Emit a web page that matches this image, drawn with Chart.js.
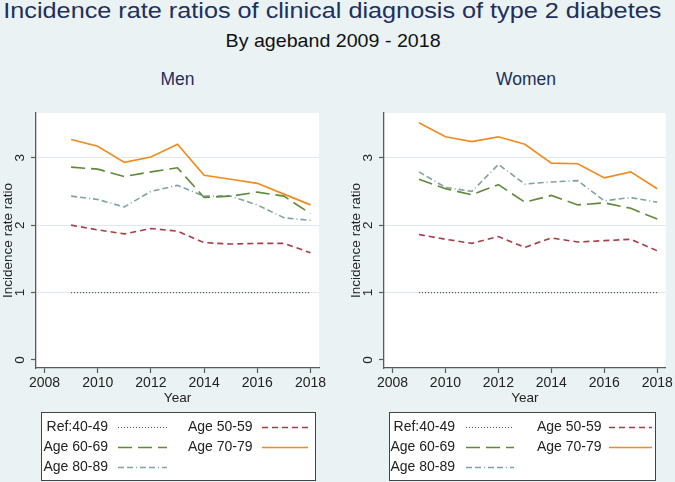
<!DOCTYPE html>
<html>
<head>
<meta charset="utf-8">
<script src="https://cdn.jsdelivr.net/npm/chart.js@4.4.1/dist/chart.umd.min.js"></script>
<style>
  body { margin: 0; width: 675px; height: 482px; overflow: hidden; position: relative;
         background: #eaf2f3; font-family: "Liberation Sans", Arial, sans-serif; }
  .txt { position: absolute; white-space: nowrap; line-height: 1; transform-origin: center center; }
  #title { top: 0px; font-size: 22.5px; color: #1e2f5c; }
  #subtitle { top: 31px; font-size: 19px; color: #111; }
  .panel { top: 71px; font-size: 17.5px; color: #1e2f5c; }
  canvas { position: absolute; top: 0; }
  #menChart { left: 0; }
  #womenChart { left: 340px; }
</style>
</head>
<body>
<div id="title" class="txt">Incidence rate ratios of clinical diagnosis of type 2 diabetes</div>
<div id="subtitle" class="txt">By ageband 2009 - 2018</div>
<div id="menTitle" class="txt panel">Men</div>
<div id="womenTitle" class="txt panel">Women</div>
<canvas id="menChart" width="340" height="482"></canvas>
<canvas id="womenChart" width="335" height="482"></canvas>
<script>
// data
const years = [2009, 2010, 2011, 2012, 2013, 2014, 2015, 2016, 2017, 2018];
const xTicks = [2008, 2010, 2012, 2014, 2016, 2018];
const yTicks = [0, 1, 2, 3];
const seriesNames = ["Ref:40-49", "Age 50-59", "Age 60-69", "Age 70-79", "Age 80-89"];

const menRef = [1, 1, 1, 1, 1, 1, 1, 1, 1, 1];
const men5059 = [2.00, 1.93, 1.87, 1.95, 1.91, 1.74, 1.72, 1.73, 1.73, 1.59];
const men6069 = [2.86, 2.83, 2.72, 2.79, 2.85, 2.41, 2.43, 2.49, 2.43, 2.17];
const men7079 = [3.27, 3.17, 2.93, 3.01, 3.20, 2.74, 2.68, 2.62, 2.46, 2.30];
const men8089 = [2.43, 2.38, 2.27, 2.50, 2.59, 2.43, 2.43, 2.30, 2.11, 2.07];

const womenRef = [1, 1, 1, 1, 1, 1, 1, 1, 1, 1];
const women5059 = [1.86, 1.79, 1.73, 1.83, 1.67, 1.81, 1.75, 1.77, 1.79, 1.62];
const women6069 = [2.68, 2.54, 2.45, 2.60, 2.34, 2.44, 2.30, 2.33, 2.25, 2.09];
const women7079 = [3.52, 3.31, 3.24, 3.31, 3.20, 2.92, 2.91, 2.70, 2.79, 2.54];
const women8089 = [2.79, 2.56, 2.50, 2.90, 2.61, 2.64, 2.66, 2.36, 2.41, 2.34];

// line look for each series, same order as seriesNames
const lineColors = ["#555555", "#a83c46", "#5e8a3a", "#f08c1e", "#7fa3a0"];
const lineDashes = [[1, 2], [6, 4], [14, 6], [], [6, 3, 6, 3, 1, 3]];
const lineWidths = [1.2, 1.6, 1.6, 1.7, 1.6];

const FONT = "'Liberation Sans', Arial, sans-serif";
const AXIS = "#5a5a5a";

// center (and squeeze/stretch) the html titles
function placeText(id, centerX, targetW) {
  const el = document.getElementById(id);
  const w = el.getBoundingClientRect().width;
  el.style.left = (centerX - w / 2) + "px";
  if (targetW) el.style.transform = "scaleX(" + (targetW / w) + ")";
}
placeText("title", 332.5, 658);
placeText("subtitle", 333.5, 215);
placeText("menTitle", 177.4);
placeText("womenTitle", 526);

// white plot region
const plotBg = {
  id: "plotBg",
  beforeDraw(chart) {
    const a = chart.chartArea;
    chart.ctx.save();
    chart.ctx.fillStyle = "#ffffff";
    chart.ctx.fillRect(a.left, a.top, a.right - a.left, a.bottom - a.top);
    chart.ctx.restore();
  }
};

// stata style legend box: label text then line sample, two columns
const boxLegend = {
  id: "boxLegend",
  afterDraw(chart, args, opts) {
    const ctx = chart.ctx;
    ctx.save();
    ctx.fillStyle = "#ffffff";
    ctx.fillRect(opts.x, opts.y, opts.w, opts.h);
    ctx.strokeStyle = "#444444";
    ctx.lineWidth = 1;
    ctx.strokeRect(opts.x + 0.5, opts.y + 0.5, opts.w, opts.h);
    ctx.font = "14px " + FONT;
    ctx.textBaseline = "middle";
    chart.data.datasets.forEach((ds, i) => {
      const col = opts.cols[i % 2];
      const y = opts.rows[Math.floor(i / 2)];
      ctx.fillStyle = "#222222";
      ctx.textAlign = i % 2 === 0 ? "right" : "left";
      ctx.fillText(ds.label, col.text, y);
      ctx.strokeStyle = ds.borderColor;
      ctx.lineWidth = ds.borderWidth;
      ctx.setLineDash(ds.borderDash);
      ctx.beginPath();
      ctx.moveTo(col.s0, y + 0.5);
      ctx.lineTo(col.s1, y + 0.5);
      ctx.stroke();
      ctx.setLineDash([]);
    });
    ctx.restore();
  }
};

function makeChart(canvasId, series, padding, legendOpts) {
  const datasets = series.map((vals, i) => ({
    label: seriesNames[i],
    data: vals,
    borderColor: lineColors[i],
    borderDash: lineDashes[i],
    borderWidth: lineWidths[i],
    pointRadius: 0,
    fill: false,
    tension: 0,
  }));
  return new Chart(document.getElementById(canvasId), {
    type: "line",
    data: { labels: years, datasets: datasets },
    plugins: [plotBg, boxLegend],
    options: {
      responsive: false,
      animation: false,
      devicePixelRatio: 1,
      layout: { padding: padding },
      plugins: {
        legend: { display: false },
        tooltip: { enabled: false },
        boxLegend: legendOpts,
      },
      scales: {
        x: {
          type: "linear",
          min: 2007.68,
          max: 2018.32,
          afterBuildTicks: (s) => { s.ticks = xTicks.map((v) => ({ value: v })); },
          afterFit: (s) => { s.height = 38; },
          grid: { drawOnChartArea: false, tickLength: 5, tickColor: AXIS, tickWidth: 1.2 },
          border: { color: AXIS, width: 1.3 },
          ticks: { color: "#222", font: { family: FONT, size: 14 }, padding: 2, maxRotation: 0, autoSkip: false,
                   callback: (v) => String(v) },
          title: { display: true, text: "Year", color: "#222", font: { family: FONT, size: 13.5 }, padding: 0 },
        },
        y: {
          min: -0.119,
          max: 3.663,
          afterBuildTicks: (s) => { s.ticks = yTicks.map((v) => ({ value: v })); },
          afterFit: (s) => { s.width = 36; },
          grid: {
            color: (c) => (c.tick && c.tick.value === 0 ? "rgba(0,0,0,0)" : "#dde9ec"),
            lineWidth: 1,
            tickLength: 5,
            tickColor: AXIS,
            tickWidth: 1.2,
          },
          border: { color: AXIS, width: 1.3 },
          ticks: { color: "#222", font: { family: FONT, size: 13.5 }, minRotation: 90, maxRotation: 90,
                   crossAlign: "center", padding: 7 },
          title: { display: true, text: "Incidence rate ratio", color: "#222", font: { family: FONT, size: 13.5 },
                   padding: { top: 0, bottom: 0 } },
        },
      },
    },
  });
}

makeChart("menChart", [menRef, men5059, men6069, men7079, men8089],
  { left: 0, right: 21, top: 113, bottom: 76 },
  { x: 41, y: 412, w: 274, h: 68, rows: [427, 447, 467],
    cols: [{ text: 108, s0: 118, s1: 167 }, { text: 188, s0: 262, s1: 308 }] });

makeChart("womenChart", [womenRef, women5059, women6069, women7079, women8089],
  { left: 8, right: 7, top: 113, bottom: 76 },
  { x: 49, y: 412, w: 266, h: 68, rows: [427, 447, 467],
    cols: [{ text: 115, s0: 126, s1: 174 }, { text: 197, s0: 269, s1: 312 }] });
</script>
</body>
</html>
